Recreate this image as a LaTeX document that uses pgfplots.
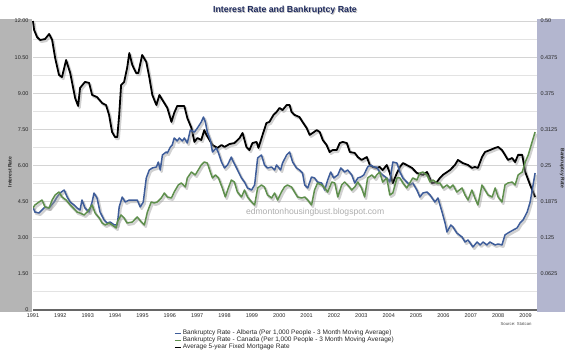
\documentclass[border=0pt]{standalone}
\usepackage{pgfplots}
\usepackage{pgfplotstable}
\pgfplotsset{compat=1.18}
\usepackage{fontspec}
\setmainfont{Liberation Sans}
\definecolor{albblue}{HTML}{3D5C99}
\definecolor{cangreen}{HTML}{5E8F4C}
\definecolor{bandgray}{HTML}{B5B5B5}
\definecolor{bandlav}{HTML}{B3B6CF}
\definecolor{titleblue}{HTML}{1E2A5E}

\pgfplotstableread{
x y
1991.00 12.00
1991.04 11.63
1991.15 11.33
1991.26 11.21
1991.44 11.25
1991.59 11.46
1991.70 11.21
1991.81 10.46
1991.95 9.76
1992.06 9.67
1992.21 10.38
1992.36 9.84
1992.54 8.80
1992.65 8.47
1992.72 9.22
1992.90 9.47
1993.05 9.43
1993.16 8.93
1993.34 8.84
1993.53 8.59
1993.67 8.51
1993.78 8.10
1993.89 7.39
1994.00 7.18
1994.08 7.18
1994.15 8.10
1994.22 9.34
1994.33 9.47
1994.44 10.05
1994.52 10.67
1994.63 10.17
1994.77 9.84
1994.85 9.84
1994.99 10.59
1995.14 10.30
1995.25 9.67
1995.36 8.93
1995.51 8.51
1995.62 8.93
1995.73 8.72
1995.91 8.39
1996.06 7.81
1996.16 8.18
1996.27 8.47
1996.53 8.47
1996.64 7.97
1996.79 7.56
1996.90 6.98
1997.01 7.14
1997.15 7.06
1997.26 7.47
1997.34 7.27
1997.45 7.06
1997.56 6.85
1997.74 6.73
1997.89 6.85
1998.00 6.77
1998.18 6.89
1998.36 6.93
1998.55 7.14
1998.66 7.35
1998.80 6.77
1998.91 6.64
1999.02 6.93
1999.17 6.98
1999.24 6.73
1999.39 7.27
1999.53 7.76
1999.64 7.81
1999.79 8.10
1999.90 8.22
2000.01 8.39
2000.12 8.30
2000.27 8.51
2000.38 8.51
2000.45 8.22
2000.56 8.10
2000.74 8.01
2000.85 7.81
2001.00 7.56
2001.11 7.27
2001.22 7.35
2001.37 7.47
2001.48 7.39
2001.59 7.06
2001.73 6.85
2001.84 6.56
2001.95 6.64
2002.10 6.64
2002.21 6.93
2002.32 6.98
2002.47 6.93
2002.58 6.56
2002.76 6.52
2002.87 6.35
2003.01 6.23
2003.20 6.35
2003.31 6.02
2003.42 5.94
2003.56 5.90
2003.67 5.94
2003.78 5.81
2003.93 6.02
2004.04 5.69
2004.15 5.27
2004.30 5.69
2004.41 5.94
2004.52 6.10
2004.66 6.02
2004.85 5.90
2005.03 5.69
2005.25 5.61
2005.40 5.73
2005.58 5.27
2005.76 5.31
2005.87 5.48
2005.98 5.61
2006.24 5.81
2006.42 6.02
2006.53 6.23
2006.71 6.10
2006.90 6.02
2007.04 5.90
2007.15 5.94
2007.26 5.90
2007.41 6.35
2007.52 6.56
2007.70 6.64
2007.89 6.73
2008.00 6.77
2008.14 6.64
2008.25 6.44
2008.36 6.23
2008.51 6.31
2008.62 6.14
2008.73 6.44
2008.88 6.44
2008.99 5.73
2009.17 5.19
2009.35 4.69
}\mortgage

\pgfplotstableread{
x y
1991.00 0.1782
1991.07 0.1695
1991.22 0.1678
1991.33 0.1730
1991.44 0.1782
1991.59 0.1765
1991.77 0.1868
1991.88 0.1955
1991.99 0.2024
1992.14 0.2076
1992.25 0.1955
1992.36 0.1868
1992.50 0.1817
1992.61 0.1765
1992.72 0.1730
1992.79 0.1903
1992.90 0.1765
1993.05 0.1695
1993.16 0.1868
1993.23 0.2024
1993.34 0.1938
1993.45 0.1695
1993.60 0.1557
1993.71 0.1505
1993.82 0.1522
1993.97 0.1471
1994.08 0.1471
1994.15 0.1782
1994.26 0.1955
1994.37 0.1868
1994.52 0.1903
1994.70 0.1903
1994.81 0.1903
1994.92 0.1782
1995.03 0.1868
1995.14 0.2284
1995.25 0.2422
1995.36 0.2457
1995.51 0.2474
1995.58 0.2560
1995.65 0.2422
1995.73 0.2682
1995.87 0.2733
1995.91 0.2716
1996.02 0.2820
1996.09 0.2855
1996.16 0.2976
1996.27 0.2924
1996.35 0.2976
1996.46 0.2924
1996.53 0.2976
1996.64 0.2889
1996.75 0.3114
1996.90 0.3079
1997.01 0.3149
1997.15 0.3252
1997.23 0.3339
1997.30 0.3252
1997.37 0.3079
1997.48 0.2941
1997.56 0.2733
1997.70 0.2803
1997.78 0.2716
1997.89 0.2560
1998.00 0.2457
1998.11 0.2509
1998.25 0.2647
1998.29 0.2595
1998.44 0.2457
1998.51 0.2387
1998.62 0.2284
1998.73 0.2214
1998.84 0.2111
1998.99 0.2076
1999.10 0.2163
1999.21 0.2630
1999.35 0.2682
1999.46 0.2509
1999.57 0.2457
1999.72 0.2474
1999.83 0.2422
1999.90 0.2509
2000.05 0.2422
2000.12 0.2543
2000.27 0.2682
2000.38 0.2733
2000.41 0.2682
2000.49 0.2560
2000.63 0.2457
2000.74 0.2422
2000.85 0.2370
2000.93 0.2163
2001.04 0.2111
2001.18 0.2301
2001.29 0.2284
2001.40 0.2214
2001.55 0.2197
2001.66 0.2076
2001.77 0.2249
2001.88 0.2387
2001.99 0.2284
2002.14 0.2336
2002.25 0.2457
2002.39 0.2387
2002.50 0.2422
2002.65 0.2336
2002.76 0.2197
2002.87 0.2284
2002.98 0.2301
2003.09 0.2336
2003.23 0.2474
2003.34 0.2509
2003.45 0.2474
2003.56 0.2474
2003.67 0.2387
2003.78 0.2336
2003.93 0.2284
2004.04 0.2214
2004.15 0.2560
2004.30 0.2543
2004.41 0.2387
2004.52 0.2284
2004.66 0.2214
2004.77 0.2163
2004.88 0.2197
2005.03 0.2076
2005.14 0.1955
2005.25 0.2024
2005.40 0.2041
2005.51 0.1990
2005.69 0.1868
2005.80 0.1938
2005.95 0.1695
2006.06 0.1505
2006.13 0.1349
2006.27 0.1471
2006.35 0.1436
2006.49 0.1332
2006.68 0.1263
2006.79 0.1176
2006.90 0.1211
2007.08 0.1090
2007.23 0.1176
2007.34 0.1125
2007.45 0.1176
2007.59 0.1125
2007.70 0.1176
2007.89 0.1125
2008.00 0.1142
2008.14 0.1125
2008.25 0.1298
2008.36 0.1332
2008.55 0.1384
2008.69 0.1419
2008.80 0.1505
2008.91 0.1557
2009.06 0.1695
2009.17 0.1868
2009.35 0.2370
}\alberta

\pgfplotstableread{
x y
1991.00 0.1765
1991.07 0.1817
1991.22 0.1868
1991.33 0.1903
1991.44 0.1782
1991.59 0.1765
1991.70 0.1903
1991.81 0.1990
1991.95 0.2041
1992.06 0.1955
1992.21 0.1903
1992.36 0.1817
1992.47 0.1765
1992.61 0.1695
1992.72 0.1678
1992.87 0.1644
1992.98 0.1695
1993.16 0.1817
1993.27 0.1678
1993.42 0.1592
1993.53 0.1505
1993.64 0.1471
1993.78 0.1505
1993.89 0.1471
1994.04 0.1419
1994.08 0.1522
1994.22 0.1644
1994.33 0.1592
1994.44 0.1505
1994.63 0.1522
1994.81 0.1609
1994.96 0.1522
1995.07 0.1471
1995.18 0.1695
1995.32 0.1868
1995.43 0.1851
1995.54 0.1868
1995.69 0.1938
1995.80 0.2024
1995.91 0.1955
1996.06 0.1938
1996.16 0.2041
1996.31 0.2163
1996.42 0.2197
1996.57 0.2128
1996.64 0.2284
1996.79 0.2387
1996.93 0.2336
1997.04 0.2422
1997.15 0.2509
1997.26 0.2560
1997.37 0.2543
1997.48 0.2387
1997.56 0.2284
1997.67 0.2336
1997.78 0.2284
1997.92 0.2111
1998.03 0.1955
1998.14 0.2111
1998.25 0.2249
1998.36 0.2214
1998.47 0.2041
1998.62 0.1955
1998.73 0.2076
1998.84 0.1955
1998.99 0.1868
1999.10 0.1817
1999.21 0.2111
1999.35 0.2163
1999.46 0.2128
1999.57 0.1990
1999.72 0.1938
1999.83 0.2024
1999.94 0.1903
2000.08 0.2041
2000.19 0.2128
2000.30 0.2163
2000.45 0.2128
2000.56 0.2041
2000.67 0.1955
2000.82 0.1938
2000.93 0.1955
2001.04 0.1903
2001.18 0.1817
2001.29 0.2076
2001.40 0.2197
2001.55 0.2163
2001.66 0.2111
2001.77 0.2041
2001.92 0.2214
2002.03 0.2197
2002.14 0.1955
2002.28 0.2163
2002.39 0.2214
2002.50 0.2163
2002.65 0.2076
2002.76 0.2128
2002.87 0.2214
2003.01 0.2111
2003.12 0.1955
2003.23 0.2284
2003.38 0.2336
2003.49 0.2284
2003.56 0.2336
2003.67 0.2387
2003.78 0.2214
2003.93 0.2284
2004.04 0.1990
2004.15 0.2024
2004.30 0.2284
2004.41 0.2284
2004.52 0.2197
2004.66 0.2111
2004.77 0.2197
2004.88 0.2284
2005.03 0.2249
2005.14 0.2370
2005.25 0.2387
2005.40 0.2336
2005.51 0.2214
2005.62 0.2249
2005.76 0.2197
2005.87 0.2197
2005.98 0.2111
2006.13 0.2163
2006.24 0.2111
2006.35 0.2163
2006.49 0.2041
2006.68 0.2111
2006.79 0.1990
2006.90 0.1903
2007.04 0.2076
2007.15 0.1938
2007.26 0.1817
2007.41 0.2163
2007.52 0.2076
2007.63 0.1990
2007.78 0.1955
2007.89 0.2111
2008.00 0.1955
2008.14 0.1868
2008.25 0.2163
2008.36 0.2197
2008.51 0.2214
2008.62 0.2163
2008.73 0.2336
2008.88 0.2387
2008.99 0.2560
2009.10 0.2682
2009.24 0.2906
2009.35 0.3079
}\canada

\pgfplotsset{
  shadowed/.style={preaction={draw=black!40, opacity=0.45, line width=2.4pt, transform canvas={shift={(1.4pt,-1.8pt)}}}},
}

\begin{document}
\begin{tikzpicture}
\useasboundingbox (0pt,0pt) rectangle (570pt,355pt);
\fill[bandgray] (0pt,43pt) rectangle (32pt,336pt);
\fill[bandlav] (537pt,43pt) rectangle (565pt,336pt);
\node[text=black!25, font=\bfseries\fontsize{8.8}{10}\selectfont] at (285.8pt,344pt) {Interest Rate and Bankruptcy Rate};
\node[text=titleblue, font=\bfseries\fontsize{8.8}{10}\selectfont] at (285pt,345pt) {Interest Rate and Bankruptcy Rate};

\begin{axis}[
  at={(33pt,45pt)}, anchor=south west, scale only axis,
  width=504pt, height=289pt,
  xmin=1991, xmax=2009.42, ymin=0, ymax=12,
  axis x line*=bottom, axis y line*=left,
  y axis line style={draw=none},
  x axis line style={draw=black!60, line width=1.2pt, -},
  xtick={1991,1992,1993,1994,1995,1996,1997,1998,1999,2000,2001,2002,2003,2004,2005,2006,2007,2008,2009},
  xticklabels={1991,1992,1993,1994,1995,1996,1997,1998,1999,2000,2001,2002,2003,2004,2005,2006,2007,2008,2009},
  ytick={0,1.5,3,4.5,6,7.5,9,10.5,12},
  yticklabels={0,1.50,3.00,4.50,6.00,7.50,9.00,10.50,12.00},
  minor ytick={0.75,2.25,3.75,5.25,6.75,8.25,9.75,11.25},
  ymajorgrids, yminorgrids,
  major grid style={black!17, line width=0.9pt},
  minor grid style={black!11, line width=0.9pt},
  major tick length=0pt, minor tick length=0pt,
  ticklabel style={font=\fontsize{5.5}{6}\selectfont, text=black!85},
  yticklabel style={xshift=-1pt},
  xticklabel style={yshift=-0.5pt},
  ylabel={Interest Rate},
  ylabel style={at={(axis description cs:-0.046,0.477)}, anchor=center, font=\bfseries\fontsize{5}{6}\selectfont, text=black!85},
  clip=false,
]
\node[text=black!32, font=\fontsize{8.6}{10}\selectfont] at (axis cs:2001.31,4.07) {edmontonhousingbust.blogspot.com};
\node[anchor=north east, font=\fontsize{4.3}{5}\selectfont, text=black!70] at (axis cs:2009.35,0) [yshift=-8.5pt] {Source: Statcan};
\addplot[black, line width=1.8pt, line join=round, shadowed] table[x=x,y=y] {\mortgage};
\end{axis}

\begin{axis}[
  at={(33pt,45pt)}, anchor=south west, scale only axis,
  width=504pt, height=289pt,
  xmin=1991, xmax=2009.42, ymin=0, ymax=0.5,
  axis y line*=right, axis x line=none,
  y axis line style={draw=none},
  ytick={0.0625,0.125,0.1875,0.25,0.3125,0.375,0.4375,0.5},
  yticklabels={0.0625,0.125,0.1875,0.25,0.3125,0.375,0.4375,0.50},
  major tick length=0pt,
  ticklabel style={font=\fontsize{5.5}{6}\selectfont, text=black!85},
  ylabel={Bankruptcy Rate},
  ylabel style={at={(axis description cs:1.05,0.49)}, anchor=center, rotate=180, font=\bfseries\fontsize{5}{6}\selectfont, text=black!85},
  legend style={draw=none, fill=none, at={(0.28,-0.066)}, anchor=north west,
    font=\fontsize{6.5}{7.2}\selectfont, inner sep=0pt, row sep=-0.8pt,
    nodes={inner sep=0.8pt, text=black!85}},
  legend cell align=left,
  legend image code/.code={\draw[#1] (0pt,0pt) -- (6.5pt,0pt);},
]
\addplot[albblue, line width=1.5pt, line join=round, shadowed, forget plot] table[x=x,y=y] {\alberta};
\addplot[cangreen, line width=1.5pt, line join=round, shadowed, forget plot] table[x=x,y=y] {\canada};
\addlegendimage{albblue, line width=0.7pt}
\addlegendentry{Bankruptcy Rate - Alberta (Per 1,000 People - 3 Month Moving Average)}
\addlegendimage{cangreen, line width=0.7pt}
\addlegendentry{Bankruptcy Rate - Canada (Per 1,000 People - 3 Month Moving Average)}
\addlegendimage{black, line width=1.2pt}
\addlegendentry{Average 5-year Fixed Mortgage Rate}
\end{axis}
\end{tikzpicture}
\end{document}
